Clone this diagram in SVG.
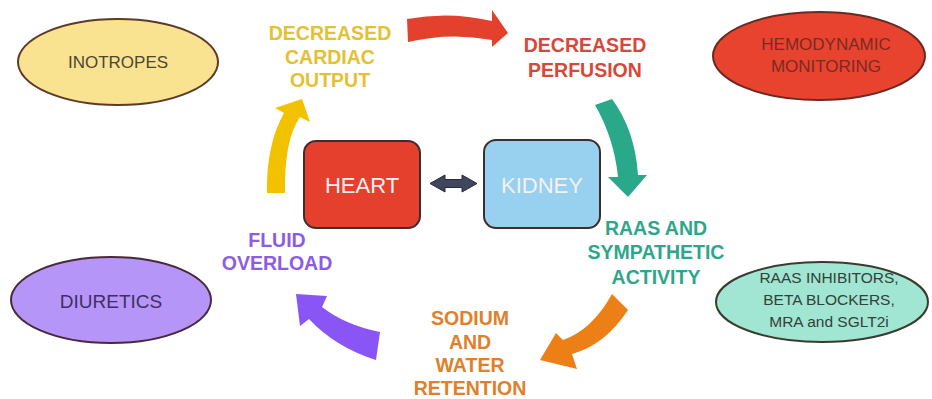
<svg xmlns="http://www.w3.org/2000/svg" width="932" height="399" viewBox="0 0 932 399">
<style>
text{font-family:"Liberation Sans",Arial,sans-serif;text-anchor:middle}
.lbl{font-weight:bold;font-size:19.5px}
.ell{font-size:17px}
.box{font-size:22px;fill:#f4f1ee}
.bx{stroke:#3e2d2d;stroke-width:2}
</style>
<rect width="932" height="399" fill="#ffffff"/>
<g id="connectors">
<path id="arrow-red" d="M407,19 Q450,11 492,21 L492,10 L508,33 L492,47 L492,40 Q450,32 408,42 Z" fill="#e4402e"/>
<path id="arrow-teal" d="M595,105 L612,99 Q635,130 638,175 L647,175 L628,197 L608,177 L618,177 Q614,138 595,105 Z" fill="#2aa88a"/>
<path id="arrow-orange" d="M612,294 L628,310 Q605,345 572,354 L577,369 L540,360 L556,333 L563,340 Q592,330 612,294 Z" fill="#ec7f16"/>
<path id="arrow-purple" d="M380,332 Q345,325 322,307 L327,296 L296,294 L300,326 L309,319 Q335,347 376,360 Z" fill="#8a55f5"/>
<path id="arrow-yellow" d="M267,193 L285,193 Q284,140 300,117 L310,122 L302,99 L275,108 L284,113 Q266,145 267,193 Z" fill="#f2c200"/>
<path id="arrow-double" d="M430,183.5 L445,175 L445,179.5 L462,179.5 L462,175 L477,183.5 L462,192 L462,187.5 L445,187.5 L445,192 Z" fill="#3e4660" stroke="#2a2a35" stroke-width="1"/>
</g>
<g id="heart">
<rect class="bx" x="304" y="141" width="116" height="87" rx="12" fill="#e5402e"/>
<text class="box" x="362" y="193">HEART</text>
</g>
<g id="kidney">
<rect class="bx" x="484" y="140" width="116" height="88" rx="12" fill="#98d0f0"/>
<text class="box" x="542" y="193">KIDNEY</text>
</g>
<g id="decreased-cardiac-output">
<text class="lbl" fill="#e3c133" x="330" y="40">DECREASED</text>
<text class="lbl" fill="#e3c133" x="330" y="64">CARDIAC</text>
<text class="lbl" fill="#e3c133" x="330" y="87">OUTPUT</text>
</g>
<g id="decreased-perfusion">
<text class="lbl" fill="#d9473a" x="585" y="52">DECREASED</text>
<text class="lbl" fill="#d9473a" x="585" y="77">PERFUSION</text>
</g>
<g id="raas-sympathetic">
<text class="lbl" fill="#2ea68a" x="656" y="235">RAAS AND</text>
<text class="lbl" fill="#2ea68a" x="656" y="259">SYMPATHETIC</text>
<text class="lbl" fill="#2ea68a" x="656" y="284">ACTIVITY</text>
</g>
<g id="sodium-water">
<text class="lbl" fill="#e0802a" x="470" y="325">SODIUM</text>
<text class="lbl" fill="#e0802a" x="470" y="349">AND</text>
<text class="lbl" fill="#e0802a" x="470" y="372">WATER</text>
<text class="lbl" fill="#e0802a" x="470" y="395">RETENTION</text>
</g>
<g id="fluid-overload">
<text class="lbl" fill="#8c5ce6" x="277" y="247">FLUID</text>
<text class="lbl" fill="#8c5ce6" x="277" y="270">OVERLOAD</text>
</g>
<g id="inotropes">
<ellipse cx="118" cy="62" rx="100" ry="43" fill="#fae390" stroke="#5e3a28" stroke-width="2"/>
<text class="ell" fill="#4d4535" x="118" y="68">INOTROPES</text>
</g>
<g id="hemodynamic">
<ellipse cx="819" cy="56" rx="106" ry="44" fill="#e8432f" stroke="#6a2a22" stroke-width="2"/>
<text class="ell" fill="#7b2a22" x="826" y="50">HEMODYNAMIC</text>
<text class="ell" fill="#7b2a22" x="826" y="72">MONITORING</text>
</g>
<g id="raas-inhibitors">
<ellipse cx="822" cy="302" rx="106" ry="40" fill="#a0e6d2" stroke="#3a3a30" stroke-width="2"/>
<text class="ell" fill="#34403a" x="829" y="283" style="font-size:15.5px">RAAS INHIBITORS,</text>
<text class="ell" fill="#34403a" x="829" y="305" style="font-size:15.5px">BETA BLOCKERS,</text>
<text class="ell" fill="#34403a" x="829" y="327" style="font-size:15.5px">MRA and SGLT2i</text>
</g>
<g id="diuretics">
<ellipse cx="111" cy="300" rx="100" ry="43" fill="#b596f8" stroke="#4a2a3a" stroke-width="2"/>
<text class="ell" fill="#3f2e63" x="111" y="308" style="font-size:19px">DIURETICS</text>
</g>
</svg>
